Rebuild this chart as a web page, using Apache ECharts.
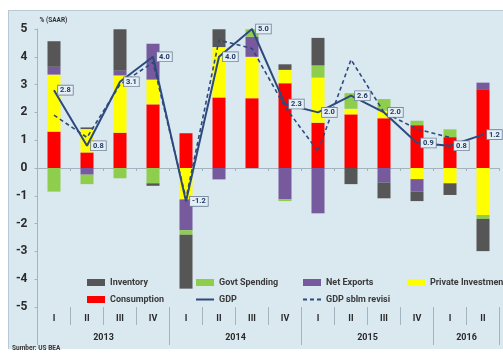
<!DOCTYPE html>
<html>
<head>
<meta charset="utf-8">
<script src="https://cdn.jsdelivr.net/npm/echarts@6/dist/echarts.min.js"></script>
<style>
  html, body { margin: 0; padding: 0; background: #ffffff; }
  #wrap { position: relative; width: 503px; height: 354px; background: #ffffff; overflow: hidden; }
  #panel { position: absolute; left: 8px; top: 10px; width: 495px; height: 338px;
           background: #dae8f0; border-top: 1px solid #b7c9d5; border-left: 1px solid #b7c9d5; }
  #chart { position: absolute; left: 0; top: 0; width: 503px; height: 354px; }
</style>
</head>
<body>
<div id="wrap">
  <div id="panel"></div>
  <div id="chart"></div>
</div>
<script>
// Quarterly contributions to US real GDP growth (percentage points, SAAR)
var quarters = ['I', 'II', 'III', 'IV', 'I', 'II', 'III', 'IV', 'I', 'II', 'III', 'IV', 'I', 'II'];
var years = ['2013', '2014', '2015', '2016'];
var yearStarts = [0, 4, 8, 12, 14];        // quarter index where each year block begins / ends
var yearCentres = [2, 6, 10, 13];

var consumption = [1.31, 0.56, 1.27, 2.29, 1.25, 2.54, 2.51, 3.05, 1.63, 1.93, 1.79, 1.54, 1.11, 2.83];
var privateInvestment = [2.05, 0.84, 2.06, 0.89, -1.13, 1.81, 1.49, 0.48, 1.62, 0.20, 0.27, -0.40, -0.55, -1.69];
var netExports = [0.28, -0.24, 0.17, 1.29, -1.11, -0.41, 0.72, -1.13, -1.63, 0, -0.52, -0.45, 0, 0.24];
var govtSpending = [-0.85, -0.34, -0.37, -0.55, -0.16, 0, 0.27, -0.06, 0.44, 0.56, 0.42, 0.16, 0.28, -0.14];
var inventory = [0.92, 0.06, 1.49, -0.09, -1.94, 0.64, 0, 0.20, 0.99, -0.58, -0.57, -0.34, -0.42, -1.16];

var gdp = [2.8, 0.8, 3.1, 4.0, -1.2, 4.0, 5.0, 2.3, 2.0, 2.6, 2.0, 0.9, 0.8, 1.2];
var gdpBeforeRevision = [1.9, 1.1, 3.0, 3.8, -1.1, 4.6, 4.3, 2.2, 0.6, 3.9, 2.0, 1.4, 1.1, null];

var yTicks = [-5, -4, -3, -2, -1, 0, 1, 2, 3, 4, 5];

var FONT = 'Roboto, "Liberation Sans", Arial, sans-serif';
var AXIS_GREY = '#a3b3c0';
var TEXT = '#2a2a2a';
var LINE_BLUE = '#2c4a7c';

var chart = echarts.init(document.getElementById('chart'), null, { renderer: 'canvas' });

function barSeries(name, data, color) {
  return {
    name: name, type: 'bar', stack: 'total', data: data,
    barWidth: 13, xAxisIndex: 0, yAxisIndex: 0,
    itemStyle: { color: color },
    emphasis: { disabled: true }
  };
}

var legendText = { fontFamily: FONT, fontSize: 9, fontWeight: 'bold', color: '#3a3a3a', lineHeight: 11 };
function legendColumn(left, names) {
  return {
    orient: 'vertical', left: left, top: 277, padding: 0,
    itemWidth: 18, itemHeight: 7, itemGap: 6,
    selectedMode: false, textStyle: legendText,
    data: names
  };
}
var lineLegendStyle = { color: 'rgba(0,0,0,0)', borderColor: 'rgba(0,0,0,0)', borderWidth: 0 };

var option = {
  animation: false,
  backgroundColor: 'transparent',
  textStyle: { fontFamily: FONT },
  title: {
    text: 'Sumber: US BEA', left: 12, top: 345, padding: 0,
    textStyle: { fontFamily: FONT, fontSize: 6.5, fontWeight: 'bold', color: '#333' }
  },
  grid: { left: 37.5, right: 3.5, top: 29, bottom: 47, containLabel: false },
  legend: [
    legendColumn(87, [{ name: 'Inventory', icon: 'rect' }, { name: 'Consumption', icon: 'rect' }]),
    legendColumn(195, [{ name: 'Govt Spending', icon: 'rect' }, { name: 'GDP', itemStyle: lineLegendStyle }]),
    legendColumn(302, [{ name: 'Net Exports', icon: 'rect' }, { name: 'GDP sblm revisi', itemStyle: lineLegendStyle }]),
    legendColumn(407, [{ name: 'Private Investment', icon: 'rect' }])
  ],
  xAxis: [
    { // axis line drawn through zero
      type: 'category', data: quarters, position: 'bottom',
      axisLine: { onZero: true, lineStyle: { color: AXIS_GREY, width: 1 } },
      axisTick: { show: true, length: 3, alignWithLabel: false, lineStyle: { color: AXIS_GREY } },
      axisLabel: { show: false }, splitLine: { show: false }
    },
    { // quarter labels under the plot
      type: 'category', data: quarters, position: 'bottom',
      axisLine: { show: false, onZero: false },
      axisTick: { show: true, length: 18, alignWithLabel: false, lineStyle: { color: AXIS_GREY } },
      axisLabel: { show: true, margin: 7, fontFamily: FONT, fontSize: 9, fontWeight: 'bold', color: TEXT },
      splitLine: { show: false }
    },
    { // year labels and year separators
      type: 'value', min: 0, max: quarters.length, position: 'bottom',
      axisLine: { show: false, onZero: false },
      axisTick: { show: true, length: 38, customValues: yearStarts, lineStyle: { color: AXIS_GREY } },
      axisLabel: {
        show: true, margin: 26, customValues: yearCentres,
        fontFamily: FONT, fontSize: 9, fontWeight: 'bold', color: TEXT,
        formatter: function (v) { var i = yearCentres.indexOf(v); return i >= 0 ? years[i] : ''; }
      },
      splitLine: { show: false }
    }
  ],
  yAxis: {
    type: 'value', min: yTicks[0], max: yTicks[yTicks.length - 1], interval: 1,
    name: '% (SAAR)', nameLocation: 'end', nameGap: 5,
    nameTextStyle: { fontFamily: FONT, fontSize: 6.5, fontWeight: 'bold', color: '#333', align: 'left', padding: [0, 0, 0, 2] },
    axisLine: { show: true, lineStyle: { color: AXIS_GREY } },
    axisTick: { show: true, length: 3, lineStyle: { color: AXIS_GREY } },
    axisLabel: { fontFamily: FONT, fontSize: 12, fontWeight: 'bold', color: TEXT, margin: 10 },
    splitLine: { show: false }
  },
  series: [
    barSeries('Consumption', consumption, '#ff0000'),
    barSeries('Private Investment', privateInvestment, '#ffff00'),
    barSeries('Net Exports', netExports, '#77599e'),
    barSeries('Govt Spending', govtSpending, '#8fce4c'),
    barSeries('Inventory', inventory, '#565656'),
    {
      name: 'GDP sblm revisi', type: 'line', data: gdpBeforeRevision,
      xAxisIndex: 0, yAxisIndex: 0, z: 5,
      symbol: 'none', connectNulls: false,
      lineStyle: { color: LINE_BLUE, width: 1.6, type: [4, 3] },
      itemStyle: { color: LINE_BLUE },
      emphasis: { disabled: true }
    },
    {
      name: 'GDP', type: 'line', data: gdp,
      xAxisIndex: 0, yAxisIndex: 0, z: 6,
      symbol: 'circle', symbolSize: 0.1, showSymbol: true,
      lineStyle: { color: LINE_BLUE, width: 2 },
      itemStyle: { color: LINE_BLUE },
      label: {
        show: true, position: 'right', distance: 4,
        formatter: function (p) { return p.value.toFixed(1); },
        fontFamily: FONT, fontSize: 7.5, fontWeight: 'bold', color: '#1f3a64',
        backgroundColor: '#e4eef4', borderColor: '#6c7f97', borderWidth: 0.8,
        padding: [1, 2, 0, 2]
      },
      emphasis: { disabled: true }
    }
  ]
};

chart.setOption(option);
</script>
</body>
</html>
